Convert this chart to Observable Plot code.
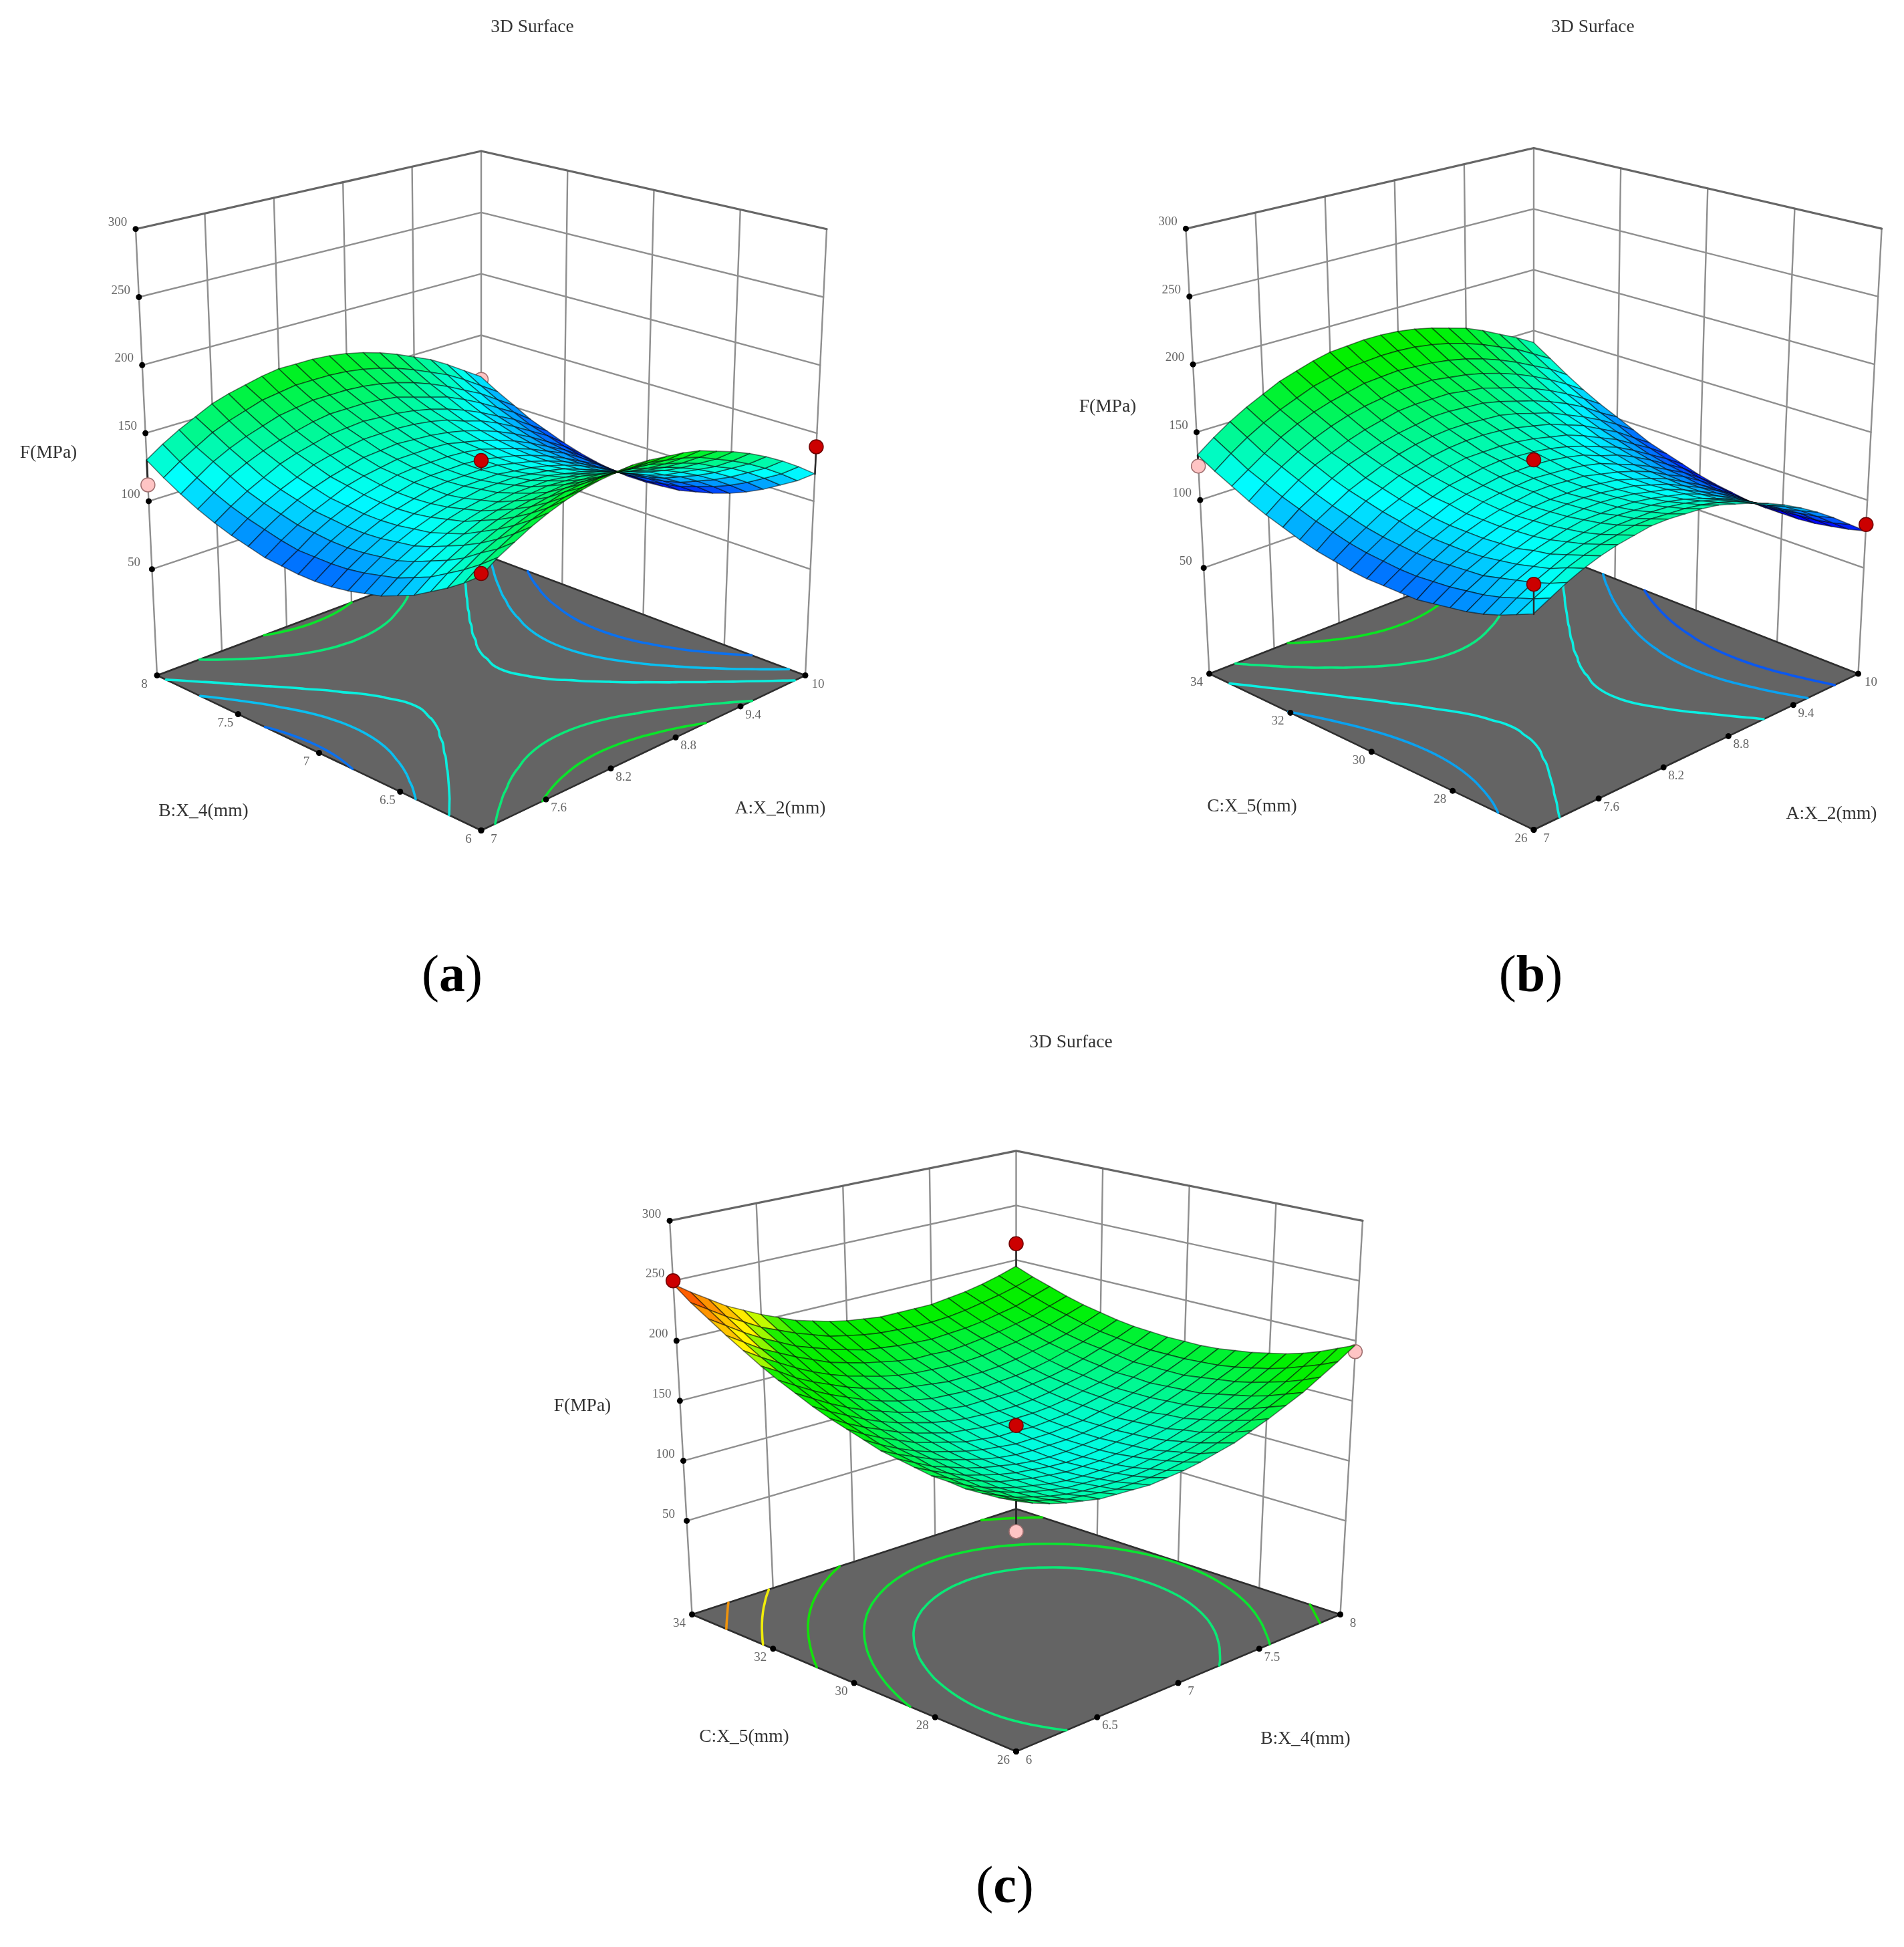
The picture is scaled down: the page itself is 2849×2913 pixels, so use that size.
<!DOCTYPE html>
<html><head><meta charset="utf-8">
<style>html,body{margin:0;padding:0;background:#fff}svg{display:block;filter:blur(.7px)}</style>
<script src="https://cdn.jsdelivr.net/npm/d3@7"></script>
<script src="https://cdn.jsdelivr.net/npm/@observablehq/plot@0.6"></script>
</head><body><div id="chart"></div>
<script>
const ticksA=[7,7.6,8.2,8.8,9.4,10];
const ticksB=[6,6.5,7,7.5,8];
const ticksC=[26,28,30,32,34];
const ticksF=[50,100,150,200,250,300];
const floorF=-28;

// F(MPa), rows: second factor low to high; columns: first factor low to high
const surfaceAB=[
[142,150,156,162,167,171,174,176,177,178,177,175,173,170,165,160,154,147,139,130,120],
[133,141,147,153,158,162,165,167,169,169,168,167,164,161,157,151,145,138,130,121,111],
[125,133,140,145,150,154,157,160,161,161,160,159,157,153,149,144,137,131,123,114,104],
[118,126,132,138,143,147,150,152,154,154,153,152,150,146,142,137,131,124,116,107,97],
[111,119,126,132,137,141,144,146,147,148,147,146,143,140,136,131,125,118,110,101,91],
[106,114,121,127,131,136,139,141,142,143,142,141,138,135,131,126,119,113,105,96,86],
[101,109,116,122,127,131,134,136,138,138,138,136,134,131,126,121,115,108,100,92,82],
[98,106,112,118,123,128,131,133,134,135,134,133,130,127,123,118,112,105,97,88,79],
[95,103,110,116,121,125,128,130,132,132,132,130,128,125,120,115,109,103,95,86,76],
[93,101,108,114,119,123,126,128,130,130,130,128,126,123,119,114,108,101,93,84,75],
[92,100,107,113,118,122,125,128,129,129,129,128,125,122,118,113,107,100,92,84,74],
[92,100,107,113,118,122,125,128,129,129,129,128,125,122,118,113,107,100,93,84,74],
[93,100,108,114,119,123,126,129,130,130,130,129,127,123,119,114,108,102,94,85,75],
[94,102,109,115,120,125,128,130,132,132,132,131,128,125,121,116,110,103,96,87,77],
[97,105,112,118,123,127,130,133,134,135,134,133,131,128,124,119,113,106,98,90,80],
[100,108,115,121,126,131,134,136,138,138,138,137,135,132,127,123,117,110,102,94,84],
[104,112,119,125,131,135,138,141,142,143,142,141,139,136,132,127,121,114,107,98,89],
[109,117,125,131,136,140,143,146,148,148,148,147,145,141,137,133,127,120,112,104,94],
[115,123,131,137,142,146,150,152,154,154,154,153,151,148,144,139,133,126,119,110,101],
[122,130,137,144,149,153,157,159,161,161,161,160,158,155,151,146,140,134,126,117,108],
[130,138,145,151,157,161,164,167,169,169,169,168,166,163,159,154,148,142,134,125,116]];

const surfaceAC=[
[116,122,128,133,137,140,142,144,144,143,142,140,136,132,127,121,114,106,97,87,77],
[111,117,123,129,133,136,138,140,140,139,138,136,133,129,123,117,111,103,94,84,74],
[106,113,119,124,129,132,134,136,136,136,135,133,130,126,121,115,108,100,92,82,72],
[102,109,116,121,125,129,131,133,134,133,132,130,127,123,118,113,106,99,90,81,70],
[99,106,113,118,123,126,129,131,131,131,130,128,125,122,117,111,105,97,89,80,69],
[97,104,110,116,120,124,127,129,130,130,129,127,124,121,116,110,104,97,88,79,69],
[95,102,109,114,119,123,126,128,129,129,128,126,124,120,116,110,104,97,89,79,69],
[93,101,108,113,118,122,125,127,128,128,128,126,124,120,116,111,104,97,89,80,70],
[93,100,107,113,118,122,125,127,129,129,128,127,124,121,117,112,105,99,91,82,72],
[93,100,107,113,118,122,126,128,129,130,129,128,126,123,118,113,107,100,93,84,74],
[93,101,108,114,119,124,127,129,131,131,131,130,128,125,120,116,110,103,95,87,77],
[94,102,109,116,121,125,129,131,133,134,133,132,130,127,123,118,113,106,98,90,81],
[96,104,111,118,123,128,131,134,136,136,136,135,133,130,127,122,116,110,102,94,85],
[98,107,114,121,126,131,134,137,139,140,140,139,137,134,131,126,121,114,107,98,89],
[101,110,117,124,129,134,138,141,143,144,144,143,142,139,135,131,125,119,112,104,95],
[105,114,121,128,134,138,142,145,147,149,149,148,147,144,140,136,131,125,118,109,101],
[109,118,126,133,138,143,147,150,153,154,154,154,152,150,146,142,137,131,124,116,107],
[114,123,131,138,144,149,153,156,158,160,160,160,158,156,153,149,144,138,131,123,114],
[120,128,136,144,150,155,159,162,165,166,167,166,165,163,160,156,151,145,138,131,122],
[126,135,143,150,156,161,166,169,172,173,174,174,173,171,168,164,159,153,147,139,131],
[133,142,150,157,163,169,173,177,180,181,182,182,181,179,176,172,168,162,155,148,140]];

const surfaceBC=[
[163,157,152,148,145,142,141,140,139,140,141,143,146,149,154,159,165,171,179,187,196],
[161,155,150,146,142,140,138,136,136,136,137,139,141,145,149,154,160,166,173,181,190],
[160,154,148,144,140,137,135,134,133,133,134,136,138,141,145,150,155,161,168,176,184],
[159,153,148,143,139,136,133,132,131,131,131,133,135,138,141,146,151,157,164,171,179],
[160,153,147,142,138,135,132,130,129,129,129,131,132,135,139,143,148,154,160,167,175],
[160,154,148,143,138,135,132,130,128,128,128,129,131,133,136,140,145,151,157,164,172],
[162,155,149,143,139,135,132,130,128,127,127,128,130,132,135,139,143,148,155,161,169],
[164,157,150,145,140,136,133,130,128,127,127,128,129,131,134,137,142,147,153,159,167],
[166,159,153,147,142,138,134,131,129,128,128,128,129,131,133,137,141,146,151,158,165],
[170,162,155,149,144,140,136,133,131,129,129,129,130,131,134,137,141,145,151,157,164],
[174,166,159,153,147,143,139,135,133,131,131,130,131,132,135,138,141,146,151,157,164],
[178,170,163,157,151,146,142,138,136,134,133,133,133,134,136,139,142,146,151,157,164],
[183,175,168,161,155,150,146,142,139,137,136,135,135,136,138,141,144,148,153,158,165],
[189,181,173,166,160,155,150,146,143,141,139,139,139,139,141,143,146,150,155,160,166],
[195,187,179,172,166,160,155,151,148,145,144,143,142,143,144,146,149,153,157,162,168],
[202,194,185,178,172,166,161,157,153,151,149,147,147,147,148,150,153,156,160,165,171],
[210,201,193,185,178,172,167,163,159,156,154,153,152,152,153,155,157,160,164,169,174],
[218,209,200,193,186,180,174,170,166,163,160,158,158,157,158,160,162,165,168,173,178],
[227,218,209,201,194,187,182,177,173,169,167,165,164,163,164,165,167,170,173,178,183],
[236,227,218,210,202,196,190,185,180,177,174,172,171,170,170,171,173,176,179,183,188],
[247,237,228,219,212,205,199,193,189,185,182,180,178,178,178,178,180,182,185,189,194]];

const levelsAB=[96,112,126,148,165];
const levelsAC=[91,106,125,146,167];
const levelsBC=[148.5,163.5,185.5,207.5,226.5];

// design points: first factor, second factor, F(MPa), above surface?
const pointsAB=[[7,8,112,0],[10,8,114,0],[8.5,7,136,1],[7,6,144,1],[10,6,140,1]];
const pointsAC=[[7,34,125,0],[8.5,30,135,1],[7,26,136,1],[10,26,82,1]];
const pointsBC=[[6,26,140,0],[8,26,191,0],[6,34,250,1],[8,34,215,1],[7,30,136,1]];

const colorDomain=[75,122,172,194,207,228,248];
const colorRange=["#0000ff","#00ffff","#00f000","#10ee00","#ffff00","#ff9000","#ff2000"];

const panels=[
 {id:"a",uT:ticksA,vT:ticksB,uL:"A:X_2(mm)",vL:"B:X_4(mm)",grid:surfaceAB,levels:levelsAB,pts:pointsAB,
  cam:{cx:719.5,side:1010,front:1242,back:828,w0:485,w1:.0976,b0:2.036,b1:-.199},
  title:[796,39],fLab:[72,676],vLab:[304,1212],uLab:[1167,1208],tag:[676,1458]},
 {id:"b",uT:ticksA,vT:ticksC,uL:"A:X_2(mm)",vL:"C:X_5(mm)",grid:surfaceAC,levels:levelsAC,pts:pointsAC,
  cam:{cx:2294.5,side:1007.5,front:1241,back:818,w0:485.5,w1:.107,b0:2.03,b1:-.21},
  title:[2383,39],fLab:[1657,607],vLab:[1873,1205],uLab:[2740,1216],tag:[2290,1458]},
 {id:"c",uT:ticksB,vT:ticksC,uL:"B:X_4(mm)",vL:"C:X_5(mm)",grid:surfaceBC,levels:levelsBC,pts:pointsBC,
  cam:{cx:1520,side:2415,front:2620,back:2257,w0:485,w1:.102,b0:1.796,b1:-.163},
  title:[1602,1558],fLab:[871,2102],vLab:[1113,2597],uLab:[1953,2600],tag:[1503,2821]}
];

function projector(c){
  const m=(c.front+c.back)/2, y0=(m+c.side)/2, d=(m-c.side)/2, a=(c.back-c.front)/2;
  return (u,v,f)=>{
    const t=f-floorF, r=(u-v)/2, g=(u+v)/2;
    return {x:c.cx+r*(c.w0+c.w1*t), y:y0+a*g+d*u*v-t*(c.b0+c.b1*g)};
  };
}
const norm=(ticks,val)=>-1+2*(val-ticks[0])/(ticks[ticks.length-1]-ticks[0]);
const idx=i=>-1+2*i/20;

// Smooth the rounded table for contouring only: pad by odd reflection so the blur has no edge bias.
function smoothed(G){
  const n=21,pad=4,N=n+2*pad,big=new Float64Array(N*N);
  const refl=(j,i)=>{
    if(j<0) return 2*refl(0,i)-refl(-j,i);
    if(j>=n) return 2*refl(n-1,i)-refl(2*(n-1)-j,i);
    if(i<0) return 2*G[j][0]-G[j][-i];
    if(i>=n) return 2*G[j][n-1]-G[j][2*(n-1)-i];
    return G[j][i];
  };
  for(let j=0;j<N;j++)for(let i=0;i<N;i++)big[j*N+i]=refl(j-pad,i-pad);
  d3.blur2({data:big,width:N,height:N},1);
  const out=new Float64Array(n*n);
  for(let j=0;j<n;j++)for(let i=0;i<n;i++)out[j*n+i]=big[(j+pad)*N+i+pad];
  return out;
}

const wallThin=[],wallTop=[],floors=[],floorEdges=[],contourRows=[],cellRows=[],tickDots=[],
      zText=[],vText=[],uText=[],stemsBack=[],stemsFront=[],ptsBack=[],ptsFront=[],textRows=[],bigRows=[];

panels.forEach(P=>{
  const p=projector(P.cam), id=P.id;
  ticksF.forEach(f=>{
    const tgt=f===300?wallTop:wallThin;
    [p(-1,1,f),p(1,1,f),p(1,-1,f)].forEach(q=>tgt.push({...q,s:id+"f"+f}));
  });
  P.uT.forEach(val=>{const u=norm(P.uT,val);
    [p(u,1,floorF),p(u,1,300)].forEach(q=>wallThin.push({...q,s:id+"u"+val}));});
  P.vT.forEach(val=>{const v=norm(P.vT,val); if(v===1)return;
    [p(1,v,floorF),p(1,v,300)].forEach(q=>wallThin.push({...q,s:id+"v"+val}));});
  const L=p(-1,1,floorF),B=p(1,1,floorF),R=p(1,-1,floorF),F=p(-1,-1,floorF);
  floors.push({x1:L.x,y1:L.y,x2:L.x,y2:L.y,s:id},{x1:F.x,y1:F.y,x2:B.x,y2:B.y,s:id},{x1:R.x,y1:R.y,x2:R.x,y2:R.y,s:id});
  [L,B,R,F,L].forEach(q=>floorEdges.push({...q,s:id}));
  const flat=smoothed(P.grid);
  d3.contours().size([21,21]).thresholds(P.levels)(flat).forEach(mp=>{
    let n=0;
    mp.coordinates.forEach(poly=>poly.forEach(ring=>{
      let run=[];
      const flush=()=>{ if(run.length>1){n++;run.forEach(q=>contourRows.push({...q,level:mp.value,s:id+mp.value+"_"+n}));} run=[]; };
      ring.forEach(([x,y])=>{
        if(x>=.5&&x<=20.5&&y>=.5&&y<=20.5){
          run.push(p(-1+2*(x-.5)/20,-1+2*(y-.5)/20,floorF));
        } else flush();
      });
      flush();
    }));
  });
  const cells=[];
  for(let j=0;j<20;j++)for(let i=0;i<20;i++)cells.push([i,j]);
  cells.sort((a,b)=>(b[0]+b[1])-(a[0]+a[1]));
  cells.forEach(([i,j])=>{
    const G=P.grid, val=(G[j][i]+G[j][i+1]+G[j+1][i]+G[j+1][i+1])/4;
    const a=p(idx(i),idx(j),G[j][i]),b=p(idx(i+1),idx(j),G[j][i+1]),c=p(idx(i+1),idx(j+1),G[j+1][i+1]),e=p(idx(i),idx(j+1),G[j+1][i]);
    const s=id+i+"_"+j;
    cellRows.push({x1:a.x,y1:a.y,x2:e.x,y2:e.y,s,val},{x1:b.x,y1:b.y,x2:c.x,y2:c.y,s,val});
  });
  ticksF.forEach(f=>{const q=p(-1,1,f);tickDots.push(q);zText.push({...q,t:String(f)});});
  P.vT.forEach(val=>{const q=p(-1,norm(P.vT,val),floorF);tickDots.push(q);vText.push({...q,t:String(val)});});
  P.uT.forEach(val=>{const q=p(norm(P.uT,val),-1,floorF);tickDots.push(q);uText.push({...q,t:String(val)});});
  P.pts.forEach(([a,b,f,up],k)=>{
    const u=norm(P.uT,a),v=norm(P.vT,b);
    const s=P.grid[Math.round((v+1)*10)][Math.round((u+1)*10)];
    const q=p(u,v,f), sur=p(u,v,s);
    const stems=up?stemsFront:stemsBack, dots=up?ptsFront:ptsBack;
    [q,sur].forEach(w=>stems.push({...w,s:id+k}));
    dots.push(q);
  });
  textRows.push({x:P.title[0],y:P.title[1],t:"3D Surface"},{x:P.fLab[0],y:P.fLab[1],t:"F(MPa)"},
    {x:P.vLab[0],y:P.vLab[1],t:P.vL},{x:P.uLab[0],y:P.uLab[1],t:P.uL});
  bigRows.push({x:P.tag[0],y:P.tag[1],t:"("+id+")"});
});

const serif="'Liberation Serif',serif";
const tick={x:"x",y:"y",text:"t",fontSize:19,fontFamily:serif,fill:"#666"};
const chart=Plot.plot({
  width:2849,height:2913,margin:0,
  style:{background:"#fff"},
  x:{domain:[0,2849],range:[0,2849],axis:null},
  y:{domain:[0,2913],range:[0,2913],axis:null},
  color:{type:"linear",domain:colorDomain,range:colorRange,legend:false},
  marks:[
    Plot.line(wallThin,{x:"x",y:"y",z:"s",stroke:"#8f8f8f",strokeWidth:2.4}),
    Plot.line(wallTop,{x:"x",y:"y",z:"s",stroke:"#666",strokeWidth:3.2}),
    Plot.area(floors,{x1:"x1",y1:"y1",x2:"x2",y2:"y2",z:"s",fill:"#646464"}),
    Plot.line(floorEdges,{x:"x",y:"y",z:"s",stroke:"#2e2e2e",strokeWidth:2.6}),
    Plot.line(contourRows,{x:"x",y:"y",z:"s",curve:"catmull-rom",stroke:"level",strokeWidth:3.6,strokeOpacity:.9}),
    Plot.line(stemsBack,{x:"x",y:"y",z:"s",stroke:"#2a2a2a",strokeWidth:3}),
    Plot.dot(tickDots,{x:"x",y:"y",r:4.5,fill:"#000"}),
    Plot.dot(ptsBack,{x:"x",y:"y",r:10.5,fill:"#ffc4c4",stroke:"#a07070",strokeWidth:1.5}),
    Plot.area(cellRows,{x1:"x1",y1:"y1",x2:"x2",y2:"y2",z:"s",fill:"val",stroke:"#000",strokeOpacity:.5,strokeWidth:1.6}),
    Plot.line(stemsFront,{x:"x",y:"y",z:"s",stroke:"#2a2a2a",strokeWidth:2.5}),
    Plot.dot(ptsFront,{x:"x",y:"y",r:10.5,fill:"#cc0000",stroke:"#700000",strokeWidth:1.5}),
    Plot.text(zText,{...tick,dx:-27,dy:-11}),
    Plot.text(vText,{...tick,dx:-19,dy:12}),
    Plot.text(uText,{...tick,dx:19,dy:12}),
    Plot.text(textRows,{x:"x",y:"y",text:"t",fontSize:27.5,fontFamily:serif,fill:"#333"}),
    Plot.text(bigRows,{x:"x",y:"y",text:"t",fontSize:78,fontFamily:serif,fill:"#000"})
  ]
});
d3.select(chart).selectAll("text").each(function(){
  const host=this.querySelector("tspan")||this;
  const m=/^\(([abc])\)$/.exec(host.textContent);
  if(m) host.innerHTML="("+'<tspan font-weight="bold">'+m[1]+"</tspan>)";
});
document.getElementById("chart").appendChild(chart);
</script></body></html>
